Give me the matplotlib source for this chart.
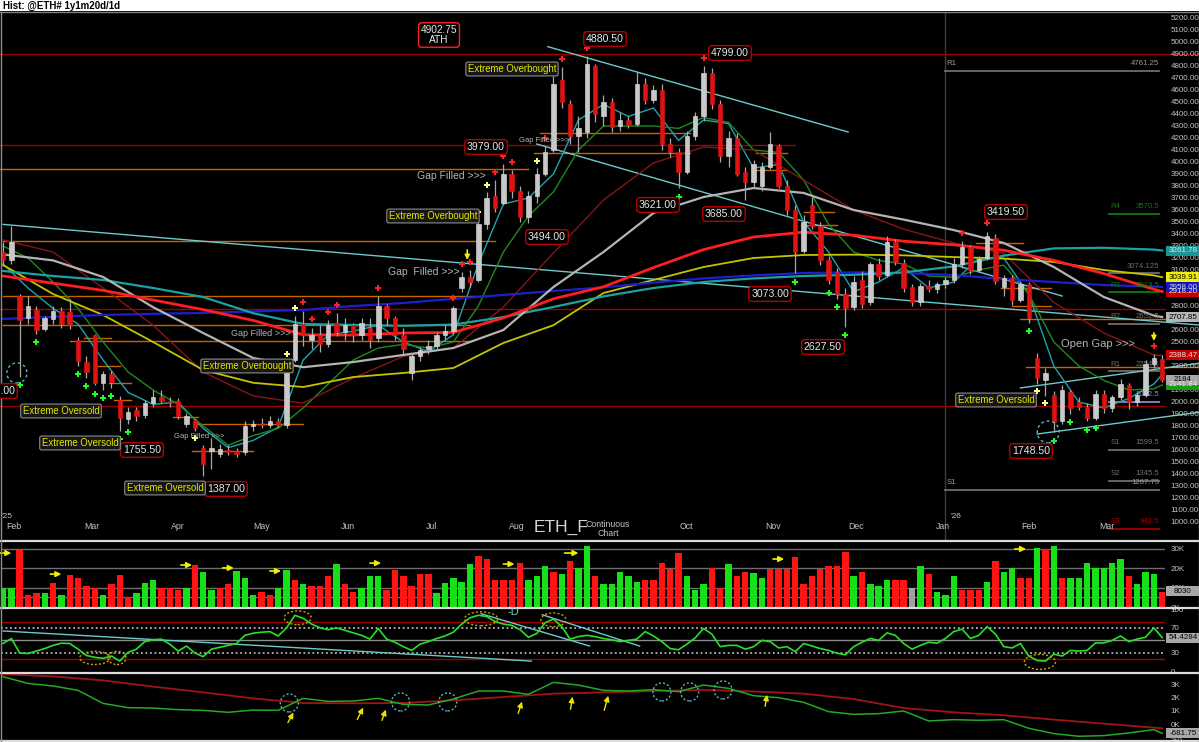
import numpy as np
import pandas as pd
import matplotlib
matplotlib.use("Agg")
import matplotlib.pyplot as plt
import matplotlib.dates as mdates
import matplotlib.transforms as mtrans
from matplotlib.patches import Rectangle, Ellipse
from matplotlib.lines import Line2D

plt.rcParams['font.family'] = ['Liberation Sans', 'DejaVu Sans']

W, H = 1199, 742

# ---------------- data (one candle every 3 days) ----------------
dates = pd.date_range('2025-01-28', periods=140, freq='3D')

opens = [3250, 3180, 2880, 2700, 2770, 2610, 2690, 2760, 2750, 2520,
         2330, 2560, 2160, 2230, 2020, 1860, 1930, 1890, 1990, 2040,
         2010, 2010, 1820, 1850, 1620, 1590, 1570, 1600, 1590, 1580,
         1800, 1820, 1810, 1840, 1810, 2350, 2650, 2520, 2560, 2480,
         2660, 2580, 2640, 2560, 2620, 2530, 2800, 2700, 2560, 2240,
         2380, 2440, 2470, 2560, 2590, 2950, 3040, 3020, 3480, 3720,
         3660, 3900, 3760, 3540, 3720, 3900, 4100, 4680, 4480, 4220,
         4250, 4800, 4380, 4500, 4300, 4350, 4320, 4650, 4520, 4600,
         4150, 4080, 3920, 4220, 4380, 4740, 4480, 4050, 4200, 3920,
         3830, 3800, 3960, 4130, 3800, 3600, 3260, 3640, 3470, 3180,
         3080, 2900, 2790, 3020, 2830, 3150, 3060, 3330, 3160, 2960,
         2830, 2970, 2940, 2980, 3020, 3150, 3290, 3100, 3200, 3370,
         2960, 3030, 2850, 2980, 2370, 2180, 2060, 1840, 2080, 2000,
         1960, 1870, 2070, 1950, 2040, 2140, 2000, 2060, 2320, 2360]
highs = [3330, 3470, 2900, 2880, 2800, 2720, 2800, 2790, 2860, 2540,
         2380, 2570, 2260, 2260, 2050, 1960, 1960, 2020, 2100, 2100,
         2040, 2030, 1910, 1860, 1640, 1700, 1650, 1640, 1620, 1840,
         1850, 1870, 1880, 1870, 2340, 2720, 2760, 2620, 2640, 2680,
         2740, 2700, 2660, 2700, 2700, 2880, 2820, 2720, 2620, 2400,
         2460, 2520, 2580, 2640, 2800, 3080, 3100, 3520, 3750, 3850,
         3980, 3930, 3800, 3760, 3950, 4130, 4720, 4790, 4520, 4380,
         4880, 4820, 4560, 4530, 4420, 4380, 4750, 4700, 4640, 4650,
         4200, 4120, 4260, 4420, 4800, 4780, 4520, 4260, 4240, 3960,
         4020, 4000, 4250, 4150, 3850, 3640, 3560, 3710, 3500, 3220,
         3120, 2950, 3050, 3090, 3170, 3200, 3380, 3360, 3190, 2980,
         2990, 3020, 3000, 3040, 3200, 3340, 3310, 3220, 3420, 3400,
         3060, 3060, 3000, 3000, 2410, 2280, 2090, 2140, 2100, 2040,
         1990, 2100, 2100, 2060, 2190, 2160, 2080, 2350, 2400, 2390]
lows = [3130, 3150, 2210, 2650, 2570, 2590, 2650, 2620, 2610, 2300,
        2200, 2140, 2100, 2120, 1760, 1820, 1840, 1870, 1960, 1990,
        1960, 1860, 1790, 1760, 1387, 1440, 1540, 1560, 1540, 1560,
        1760, 1780, 1780, 1790, 1780, 2330, 2470, 2440, 2420, 2460,
        2550, 2520, 2500, 2520, 2450, 2500, 2640, 2520, 2400, 2180,
        2340, 2400, 2440, 2520, 2570, 2920, 2960, 3000, 3440, 3580,
        3640, 3700, 3500, 3494, 3660, 3880, 4080, 4450, 4150, 4080,
        4200, 4330, 4300, 4250, 4260, 4280, 4300, 4480, 4490, 4100,
        4040, 3780, 3900, 4180, 4340, 4440, 4000, 3960, 3880, 3685,
        3780, 3760, 3940, 3780, 3560, 3073, 3240, 3440, 3140, 2980,
        2860, 2627, 2770, 2780, 2810, 3020, 3040, 3140, 2920, 2800,
        2800, 2920, 2910, 2950, 2990, 3120, 3070, 3080, 3180, 2980,
        2880, 2810, 2830, 2660, 2150, 2050, 1748, 1820, 1900, 1930,
        1840, 1850, 1910, 1920, 2020, 1940, 1970, 2040, 2280, 2170]
closes = [3180, 3330, 2680, 2800, 2600, 2700, 2760, 2650, 2640, 2340,
          2250, 2160, 2230, 2170, 1870, 1920, 1880, 1990, 2040, 2010,
          2000, 1880, 1880, 1780, 1480, 1620, 1610, 1580, 1570, 1800,
          1820, 1810, 1840, 1810, 2320, 2650, 2560, 2560, 2480, 2640,
          2580, 2640, 2560, 2660, 2520, 2800, 2700, 2560, 2440, 2380,
          2430, 2470, 2560, 2590, 2780, 3040, 3000, 3480, 3700, 3620,
          3900, 3760, 3540, 3720, 3900, 4080, 4650, 4500, 4220, 4280,
          4820, 4400, 4500, 4290, 4350, 4310, 4650, 4520, 4600, 4150,
          4080, 3920, 4220, 4380, 4740, 4480, 4050, 4200, 3900, 3830,
          3980, 3960, 4150, 3800, 3600, 3250, 3500, 3470, 3180, 3020,
          2900, 2780, 3000, 2820, 3150, 3050, 3330, 3170, 2950, 2830,
          2970, 2940, 2980, 3020, 3150, 3290, 3100, 3190, 3380, 3010,
          3030, 2850, 2980, 2700, 2200, 2240, 1830, 2100, 1950, 1960,
          1870, 2070, 1950, 2040, 2150, 2000, 2060, 2320, 2370, 2184]

volume_k = [10, 10, 29.5, 6, 7.4, 7, 12.6, 6, 16.7, 15,
            11, 10, 6, 12, 16.7, 5, 7.4, 12.6, 13.7, 10,
            10, 9, 10, 21.8, 17.9, 9, 10, 12, 18.5, 15,
            6, 7.5, 6, 10, 18.9, 14, 12, 11, 11, 15.8,
            22, 12, 8, 10, 16, 16, 9, 19, 15.8, 11,
            17, 17, 7, 12.6, 15, 13, 22, 26.4, 25, 14,
            14, 14, 23, 14, 16, 21, 18, 17, 24, 20,
            31.5, 16, 12, 12, 18, 16, 13, 14, 14, 23,
            19.5, 28, 16, 9, 12, 20, 10, 22, 16, 18,
            17.5, 15, 19.5, 19.5, 19.5, 26, 12, 16, 19.5, 21,
            21, 28.4, 16, 18, 12, 11, 14, 14, 14, 10,
            21, 17, 8, 6, 16, 9, 9, 9, 13, 24,
            18, 20, 15, 15, 30.5, 30, 31.6, 15, 15, 15,
            23, 20, 20, 23, 25, 16, 12, 18, 17, 8]
volume_side = ("ggrrrgrgrr" "rrgrrrgggr" "rrgrggrrgg" "grrggrgrrr" "grrgggrrrr"
               "rrgggggrrr" "rrrgggrgrg" "grgggggrrr" "rrgggrrgrr" "ggrrrrrrrr"
               "rrgrgggrrw" "grgggrrrgr" "ggrrgrgrgg" "gggggrgggr")

rsi = [45, 53, 30, 29, 33, 37, 42, 45.5, 45, 36,
       26, 23, 21.4, 25, 17, 31, 36, 48, 51, 52,
       44, 33, 41, 30, 24, 36, 39, 42, 45, 58,
       61.5, 63, 64, 57, 70, 90, 85, 76, 70, 67,
       70, 66, 62, 58, 52, 69, 52, 47, 40, 34,
       44, 48, 53, 57, 63, 76, 86, 90, 88, 80,
       76, 74, 67, 55, 61, 78, 84, 72, 52, 56,
       58, 56, 53, 51, 48, 50, 52, 64, 57, 48,
       37, 35, 44, 54, 69, 60, 40, 42, 42, 36,
       40, 50, 48, 38, 40, 32, 45, 41, 37, 34,
       29.5, 27, 40, 47, 53, 50, 62, 58, 45, 36,
       42, 47, 45.5, 53, 64, 68, 53, 58, 72, 60,
       40, 38, 45, 25, 18, 17, 28, 25, 34, 33,
       34, 46, 46, 50, 57, 48, 52, 55, 70, 54.4]

# moving averages, read at every 3rd / 6th candle
fast_idx = list(range(0, 139, 3)) + [139]
slow_idx = list(range(0, 139, 6)) + [139]
ma_cyan = [3150, 2950, 2780, 2650, 2350, 2080, 1980, 2000, 1780, 1620, 1680, 1790,
           2350, 2560, 2590, 2640, 2500, 2420, 2560, 3150, 3650, 3700, 3900, 4350,
           4480, 4380, 4450, 4180, 4350, 4320, 3950, 3980, 3500, 3250, 2920, 3000,
           3120, 2950, 3000, 3200, 3200, 2900, 2300, 2000, 1950, 2030, 2150, 2230]
ma_green = [3300, 3200, 3000, 2780, 2500, 2250, 2100, 1980, 1800, 1640, 1720, 1780,
            1950, 2150, 2350, 2450, 2480, 2450, 2500, 2800, 3250, 3550, 3750, 4100,
            4300, 4300, 4300, 4280, 4370, 4330, 4100, 4080, 3850, 3480, 3250, 3180,
            3150, 3050, 3040, 3100, 3140, 2900, 2500, 2300, 2180, 2100, 2110, 2142]
ma_darkred = [3350, 3250, 2950, 2640, 2250, 2050, 1990, 2200, 2380, 2450, 2792, 3242, 3683,
              3992, 4125, 4100, 3850, 3600, 3440, 3325, 3240, 2830, 2575, 2392, 2388]
ma_gray = [3230, 3180, 3042, 2790, 2575, 2367, 2290, 2333, 2392, 2450, 2600, 2958, 3250,
           3575, 3708, 3783, 3742, 3600, 3520, 3433, 3325, 3125, 2875, 2720, 2708]
ma_red = [3050, 2990, 2930, 2850, 2770, 2680, 2560, 2558, 2575, 2580, 2700, 2860, 2960,
          3120, 3270, 3375, 3415, 3390, 3340, 3310, 3265, 3180, 3070, 2940, 2920]
ma_teal = [3092, 3050, 3017, 2950, 2875, 2740, 2650, 2642, 2635, 2645, 2708, 2792, 2880,
           2950, 3000, 3030, 3050, 3060, 3080, 3130, 3220, 3280, 3285, 3270, 3262]
ma_yellow = [3142, 2900, 2725, 2500, 2267, 2160, 2125, 2208, 2242, 2283, 2492, 2640, 2908,
             3017, 3125, 3200, 3225, 3228, 3222, 3208, 3195, 3167, 3100, 3055, 3040]
ma_blue = [2692, 2710, 2725, 2735, 2742, 2755, 2767, 2800, 2825, 2860, 2892, 2925, 2955,
           2995, 3030, 3055, 3075, 3080, 3075, 3058, 3025, 3000, 2975, 2962, 2958]

obv_k = [3.58, 3.07, 2.88, 2.55, 1.57, 1.25, 1.22, 1.1, 1.05, 0.9, 1.07, 1.05,
         1.95, 1.72, 1.75, 1.95, 1.5, 1.45, 1.9, 2.5, 2.5, 2.25, 3.15, 2.95,
         2.55, 2.5, 2.6, 2.45, 2.95, 2.7, 2.15, 2.0, 1.65, 0.95, 0.75, 0.8,
         1.0, 0.25, 0.35, 0.3, 0.35, -0.3, -0.7, -0.9, -0.85, -0.65, -0.4, -0.68]
obv_ma_k = [3.76, 3.6, 3.3, 2.83, 2.4, 1.95, 1.6, 1.58, 1.6, 1.8, 2.05, 2.3, 2.4,
            2.5, 2.58, 2.47, 2.3, 1.9, 1.22, 0.9, 0.68, 0.35, 0.05, -0.25, -0.3]

red_marks = [36, 37, 39, 40, 45, 54, 55, 56, 59, 60, 61, 65, 66, 67, 70, 84, 115, 118, 138]
green_marks = [2, 4, 9, 10, 11, 12, 13, 14, 15, 24, 81, 95, 99, 100, 101, 123, 126, 128, 130, 131]
pale_hi_marks = [34, 35, 57, 58, 64]
pale_lo_marks = [23, 124, 125]

red_levels = [(4900, '2025-01-26', '2026-04-05'), (4140, '2025-01-26', '2025-11-09'),
              (2775, '2025-01-26', '2026-03-22'), (1970, '2025-01-26', '2026-03-22')]
orange_levels = [(3942, '2025-01-26', '2025-08-05'), (3342, '2025-01-28', '2025-07-24'),
                 (2886, '2025-01-28', '2025-07-22'), (2642, '2025-01-28', '2025-07-15'),
                 (2511, '2025-02-21', '2025-07-15'), (2536, '2025-02-26', '2025-03-08'),
                 (2300, '2025-03-03', '2025-03-11'), (2161, '2025-03-07', '2025-03-15'),
                 (2017, '2025-03-09', '2025-03-15'), (1875, '2025-03-30', '2025-04-08'),
                 (1817, '2025-04-07', '2025-05-16'), (1594, '2025-04-06', '2025-04-28'),
                 (4244, '2025-08-09', '2025-10-02'), (4078, '2025-08-07', '2025-10-02'),
                 (4075, '2025-10-26', '2025-11-06'), (3933, '2025-10-25', '2025-11-06'),
                 (3586, '2025-11-12', '2025-11-23'), (3471, '2025-11-11', '2025-11-24'),
                 (3322, '2026-01-13', '2026-01-30'), (2948, '2026-01-22', '2026-02-09'),
                 (2800, '2026-01-26', '2026-02-09'), (2689, '2026-01-29', '2026-04-04'),
                 (2294, '2026-01-31', '2026-04-04')]
trend_lines = [('2025-01-28', 3480, '2026-04-04', 2640),
               ('2025-08-12', 4961, '2025-11-28', 4250),
               ('2025-08-08', 4150, '2026-02-13', 2883),
               ('2026-01-29', 2117, '2026-04-04', 2325),
               ('2026-02-04', 1733, '2026-04-04', 1917)]
pivots_long = [('R1', 4761.25, '4761.25'), ('S1', 1267.75, '1267.75')]
pivots_short = [('R4', 3570.5, '3570.5', '#0e7a0e'), ('', 3074.125, '3074.125', '#6e6e6e'),
                ('R3', 2913.5, '2913.5', '#0e7a0e'), ('R2', 2652.5, '2652.5', '#6e6e6e'),
                ('R1', 2254.5, '2254.5', '#6e6e6e'), ('', 2002.5, '2002.5', '#8a8ac8'),
                ('S1', 1599.5, '1599.5', '#6e6e6e'), ('S2', 1345.5, '1345.5', '#6e6e6e'),
                ('S3', 942.5, '942.5', '#a00000')]

months = [('2025-02-01', 'Feb'), ('2025-03-01', 'Mar'), ('2025-04-01', 'Apr'), ('2025-05-01', 'May'),
          ('2025-06-01', 'Jun'), ('2025-07-01', 'Jul'), ('2025-08-01', 'Aug'), ('2025-10-01', 'Oct'),
          ('2025-11-01', 'Nov'), ('2025-12-01', 'Dec'), ('2026-01-01', 'Jan'), ('2026-02-01', 'Feb'),
          ('2026-03-01', 'Mar')]

# ---------------- figure ----------------
fig = plt.figure(figsize=(W / 100, H / 100), dpi=100, facecolor='black')


def panel(top, bottom):
    ax = fig.add_axes([1 / W, 1 - bottom / H, 1164 / W, (bottom - top) / H], facecolor='black')
    for s in ax.spines.values():
        s.set_visible(False)
    ax.set_xticks([])
    ax.yaxis.tick_right()
    ax.tick_params(axis='y', length=0, pad=4, labelsize=5.8, labelcolor='#c4c4c4')
    return ax


ax = panel(12, 540)
axv = panel(542, 607)
axr = panel(608, 672)
axo = panel(674, 740)

x = mdates.date2num(dates)
d = lambda s: mdates.datestr2num(s)
xmin, xmax = d('2025-01-28') - 0.72, d('2026-03-22')
for a in (ax, axv, axr, axo):
    a.set_xlim(xmin, xmax)
ax.set_ylim(850, 5250)
axv.set_ylim(0, 33.6)
axr.set_ylim(-0.4, 101.6)
axo.set_ylim(-1.18, 3.78)

ax.set_yticks(range(1000, 5201, 100))
ax.set_yticklabels([f'{v:.2f}' for v in range(1000, 5201, 100)])
axv.set_yticks([0, 10, 20, 30])
axv.set_yticklabels(['0K', '10K', '20K', '30K'])
axr.set_yticks([0, 30, 50, 70, 100])
axo.set_yticks([-1, 0, 1, 2, 3])
axo.set_yticklabels(['-1K', '0K', '1K', '2K', '3K'])


def ftext(px, py, s, **kw):
    return fig.text(px / W, 1 - py / H, s, **kw)


def fline(x0, y0, x1, y1, color, lw):
    fig.add_artist(Line2D([x0 / W, x1 / W], [1 - y0 / H, 1 - y1 / H], color=color, lw=lw,
                          transform=fig.transFigure))


def value_box(a, val, txt, fc, tc):
    y0, y1 = a.get_ylim()
    bb = a.get_position()
    hd = 10 * (y1 - y0) / (bb.height * H)
    px = 1 / (bb.width * W)
    tr = mtrans.blended_transform_factory(a.transAxes, a.transData)
    a.add_patch(Rectangle((1 + px, val - hd / 2), 34 * px, hd, transform=tr, facecolor=fc,
                          edgecolor='none', clip_on=False, zorder=10))
    a.text(1 + 18 * px, val, txt, transform=tr, ha='center', va='center', fontsize=5.8,
           color=tc, clip_on=False, zorder=11)


# top strip
fig.add_artist(Rectangle((0, 1 - 11 / H), 1, 11 / H, transform=fig.transFigure,
                         facecolor='white', edgecolor='none'))
ftext(3, 5.5, 'Hist: @ETH# 1y1m20d/1d', fontsize=7, fontweight='bold', color='black', va='center')
fline(0, 11.5, W, 11.5, '#808080', 1)
for yy in (541, 607.5, 673, 741):
    fline(0, yy, W, yy, '#dcdcdc', 1.6)
fline(0.5, 12, 0.5, 742, '#8c8c8c', 1)
fline(1198.5, 12, 1198.5, 742, '#8c8c8c', 1)

# ---------------- main price panel ----------------
ax.axvline(d('2026-01-02'), color='#3c3c3c', lw=1, zorder=0.5)
for y, a0, a1 in red_levels:
    ax.plot([d(a0), d(a1)], [y, y], color='#a00000', lw=1, zorder=1, clip_on=False)
for y, a0, a1 in orange_levels:
    ax.plot([d(a0), d(a1)], [y, y], color='#c86400', lw=1, zorder=1, clip_on=False)
for a0, y0, a1, y1 in trend_lines:
    ax.plot([d(a0), d(a1)], [y0, y1], color='#6ccaca', lw=1, zorder=1.5, clip_on=False)

for lab, y, txt in pivots_long:
    ax.plot([d('2026-01-02'), d('2026-03-20')], [y, y], color='#6e6e6e', lw=1.3, zorder=1)
    ax.text(d('2026-01-02') + 0.5, y + 30, lab, fontsize=5.6, color='#9a9a9a', va='bottom')
    ax.text(d('2026-03-20'), y + 30, txt, fontsize=5.6, color='#9a9a9a', va='bottom', ha='right')
for lab, y, txt, col in pivots_short:
    ax.plot([d('2026-03-02'), d('2026-03-20')], [y, y], color=col, lw=1.3, zorder=1)
    ax.text(d('2026-03-02') + 0.5, y + 30, lab, fontsize=5.6, color=col, va='bottom')
    ax.text(d('2026-03-20'), y + 30, txt, fontsize=5.6, color=col, va='bottom', ha='right')

fx = x[fast_idx]
sx = x[slow_idx]
ax.plot(fx, ma_cyan, color='#1fa3b0', lw=1, zorder=2)
ax.plot(fx, ma_green, color='#1e8a1e', lw=1, zorder=2)
ax.plot(sx, ma_darkred, color='#8a1414', lw=1, zorder=2)
ax.plot(sx, ma_yellow, color='#c4c400', lw=1.3, zorder=2)
ax.plot(sx, ma_blue, color='#1e1ecf', lw=1.6, zorder=2)
ax.plot(sx, ma_teal, color='#1aa2a2', lw=1.6, zorder=2)
ax.plot(sx, ma_gray, color='#b4b4b4', lw=1.6, zorder=2)
ax.plot(sx, ma_red, color='#ff1e1e', lw=2.0, zorder=2)

o, h, l, c = (np.array(v, dtype=float) for v in (opens, highs, lows, closes))
up = c >= o
ax.vlines(x, l, h, color='#a8a8a8', lw=0.9, zorder=3)
ax.bar(x[up], (c - o)[up], bottom=o[up], width=1.6, color='#c8c8c8', edgecolor='#e4e4e4',
       lw=0.4, zorder=4)
ax.bar(x[~up], (o - c)[~up], bottom=c[~up], width=1.6, color='#e01212', edgecolor='#e01212',
       lw=0.4, zorder=4)

ax.scatter(x[red_marks], h[red_marks] + 70, marker='P', s=14, color='#ff2020', lw=0, zorder=5)
ax.scatter(x[green_marks], l[green_marks] - 70, marker='P', s=14, color='#20ff20', lw=0, zorder=5)
ax.scatter(x[pale_hi_marks], h[pale_hi_marks] + 60, marker='P', s=14, color='#ffff90', lw=0, zorder=5)
ax.scatter(x[pale_lo_marks], l[pale_lo_marks] - 60, marker='P', s=14, color='#ffff90', lw=0, zorder=5)

for cx, cy, w_, h_ in [('2025-02-02', 2242, 7.2, 167), ('2026-02-08', 1750, 7.9, 183)]:
    ax.add_patch(Ellipse((d(cx), cy), w_, h_, fill=False, ec='#5ab4c8', lw=1,
                         ls=(0, (2, 2)), zorder=6))
for dd, y0, y1 in [('2025-07-14', 3290, 3160), ('2026-03-18', 2600, 2485)]:
    ax.annotate('', xy=(d(dd), y1), xytext=(d(dd), y0),
                arrowprops=dict(arrowstyle='-|>', color='#f0f000', lw=1.2, mutation_scale=7), zorder=6)

tr_m = mtrans.blended_transform_factory(ax.transData, ax.transAxes)
for ds, name in months:
    ax.text(d(ds), 0.025, name, transform=tr_m, ha='center', va='center', fontsize=6.3,
            color='#c4c4c4')
ftext(1, 517, "'25", fontsize=6, color='#c4c4c4', va='center')
ftext(950, 517, "'26", fontsize=6, color='#c4c4c4', va='center')
ftext(561, 527, 'ETH_F', fontsize=12.5, color='#d4d4d4', ha='center', va='center')
ftext(608, 529, 'Continuous\nChart', fontsize=6.3, color='#c4c4c4', ha='center', va='center',
      linespacing=1.1)

for val, txt, fc, tc in [(3261.78, '3261.78', '#1a9696', '#e8e8e8'), (3039.91, '3039.91', '#f0f000', '#000000'),
                         (2918.2, '2918.20', '#c80000', '#e8e8e8'), (2958.0, '2958.00', '#1414c8', '#d8d8d8'),
                         (2707.85, '2707.85', '#b4b4b4', '#000000'), (2388.47, '2388.47', '#c80000', '#e8e8e8'),
                         (2141.84, '2141.84', '#10a010', '#e8e8e8'), (2184, '2184', '#a8a8a8', '#000000')]:
    value_box(ax, val, txt, fc, tc)

red_box = dict(boxstyle='round,pad=0.22,rounding_size=0.3', fc='black', ec='#b40000', lw=1.0)
for txt, px, py in [('4880.50', 605, 39), ('4799.00', 730, 53), ('3979.00', 486, 147),
                    ('3494.00', 547, 237), ('3621.00', 658, 205), ('3685.00', 724, 214),
                    ('3073.00', 770, 294), ('2627.50', 823, 347), ('3419.50', 1006, 212),
                    ('1748.50', 1031, 451), ('1755.50', 142, 450), ('1387.00', 226, 489),
                    ('2122.00', -4, 391)]:
    ftext(px, py, txt, ha='center', va='center', fontsize=7.6, color='#e6e6e6', bbox=red_box, zorder=20)
ftext(439, 35, '4902.75\nATH', ha='center', va='center', fontsize=7.3, color='#e6e6e6', linespacing=1.0,
      bbox=dict(boxstyle='round,pad=0.22,rounding_size=0.3', fc='black', ec='#ff2020', lw=1.0), zorder=20)

ybox = dict(boxstyle='round,pad=0.2,rounding_size=0.2', fc='#161616', ec='#8c8c8c', lw=0.8)
for txt, px, py in [('Extreme Overbought', 512, 69), ('Extreme Overbought', 433, 216),
                    ('Extreme Overbought', 247, 366), ('Extreme Oversold', 61, 411),
                    ('Extreme Oversold', 80, 443), ('Extreme Oversold', 165, 488),
                    ('Extreme Oversold', 996, 400)]:
    ftext(px, py, txt, ha='center', va='center', fontsize=6.9, color='#e6e600', bbox=ybox, zorder=20)

for txt, px, py, fs in [('Gap Filled >>>', 451, 176, 7.5), ('Gap  Filled >>>', 424, 272, 7.5),
                        ('Gap Filled >>>', 261, 333, 6.5), ('Gap Filled >>>', 199, 436, 5.5),
                        ('Gap Filled >>>', 544, 140, 5.5), ('Open Gap >>>', 1098, 344, 8)]:
    ftext(px, py, txt, ha='center', va='center', fontsize=fs, color='#b4b4b4', zorder=20)

# ---------------- volume panel ----------------
for yy in (30, 20, 10, 5.2):
    axv.axhline(yy, color='#6e6e6e', lw=1, zorder=0.5)
vcol = {'g': '#18e018', 'r': '#ff1414', 'w': '#a0a0a0'}
axv.bar(x, volume_k, width=2.3, color=[vcol[s] for s in volume_side], zorder=2)
for a0, a1, yy in [('2025-01-25', '2025-02-01', 27.9), ('2025-02-13', '2025-02-19', 17),
                   ('2025-04-01', '2025-04-07', 21.7), ('2025-04-16', '2025-04-22', 20.2),
                   ('2025-05-03', '2025-05-09', 18.6), ('2025-06-08', '2025-06-14', 22.7),
                   ('2025-07-26', '2025-08-01', 22.2), ('2025-08-17', '2025-08-24', 27.9),
                   ('2025-10-31', '2025-11-06', 24.8), ('2026-01-26', '2026-02-01', 30)]:
    axv.annotate('', xy=(d(a1), yy), xytext=(d(a0), yy), annotation_clip=False,
                 arrowprops=dict(arrowstyle='-|>', color='#f0f000', lw=1.2, mutation_scale=8), zorder=5)
value_box(axv, 8.03, '8030', '#a8a8a8', '#000000')

# ---------------- RSI panel ----------------
for yy in (80, 20):
    axr.axhline(yy, color='#a00000', lw=1, zorder=0.5)
for yy in (70, 30):
    axr.axhline(yy, color='#b4b4b4', lw=1.3, ls=(0, (1, 1.5)), zorder=0.5)
axr.axhline(50, color='#8c8c8c', lw=1, zorder=0.5)
for a0, y0, a1, y1 in [('2025-01-28', 65, '2025-08-06', 17), ('2025-07-19', 92.4, '2025-08-27', 41),
                       ('2025-08-10', 90.8, '2025-09-14', 41)]:
    axr.plot([d(a0), d(a1)], [y0, y1], color='#6ccaca', lw=1, zorder=1)
axr.plot(x, rsi, color='#28e028', lw=1.2, zorder=2)
for cx, cy, w_, h_ in [('2025-03-02', 22, 10.8, 21), ('2025-03-10', 22, 6.5, 21),
                       ('2025-05-14', 86, 9.7, 22), ('2025-07-19', 84.4, 11.9, 22),
                       ('2025-08-14', 82.8, 9, 22), ('2026-02-05', 15.6, 11.2, 24)]:
    axr.add_patch(Ellipse((d(cx), cy), w_, h_, fill=False, ec='#c8a000', lw=1, ls=(0, (1.5, 1.5)), zorder=3))
ftext(513, 612, '-D', fontsize=8, color='#80d0e0', ha='center', va='center')
value_box(axr, 54.43, '54.4284', '#a8a8a8', '#000000')

# ---------------- OBV panel ----------------
axo.plot(sx, obv_ma_k, color='#a01414', lw=1.3, zorder=1)
axo.plot(fx, obv_k, color='#22aa22', lw=1.1, zorder=2)
for cx, cy in [('2025-05-11', 1.6), ('2025-06-20', 1.68), ('2025-07-07', 1.68),
               ('2025-09-22', 2.43), ('2025-10-02', 2.43), ('2025-10-14', 2.58)]:
    axo.add_patch(Ellipse((d(cx), cy), 6.5, 1.35, fill=False, ec='#5ab4c8', lw=1, ls=(0, (1.5, 1.5)), zorder=3))
for a0, y0, a1, y1 in [('2025-05-10', -0.05, '2025-05-13', 1.07), ('2025-06-04', 0.17, '2025-06-07', 1.45),
                       ('2025-06-13', 0.1, '2025-06-15', 1.3), ('2025-08-01', 0.62, '2025-08-03', 1.9),
                       ('2025-08-20', 0.92, '2025-08-21', 2.28), ('2025-09-01', 0.85, '2025-09-03', 2.35),
                       ('2025-10-29', 1.15, '2025-10-30', 2.43)]:
    axo.annotate('', xy=(d(a1), y1), xytext=(d(a0), y0),
                 arrowprops=dict(arrowstyle='-|>', color='#f0e000', lw=1, mutation_scale=8), zorder=4)
value_box(axo, -0.68, '-681.75', '#a8a8a8', '#000000')

fig.savefig('out.png', dpi=100, facecolor='black')
